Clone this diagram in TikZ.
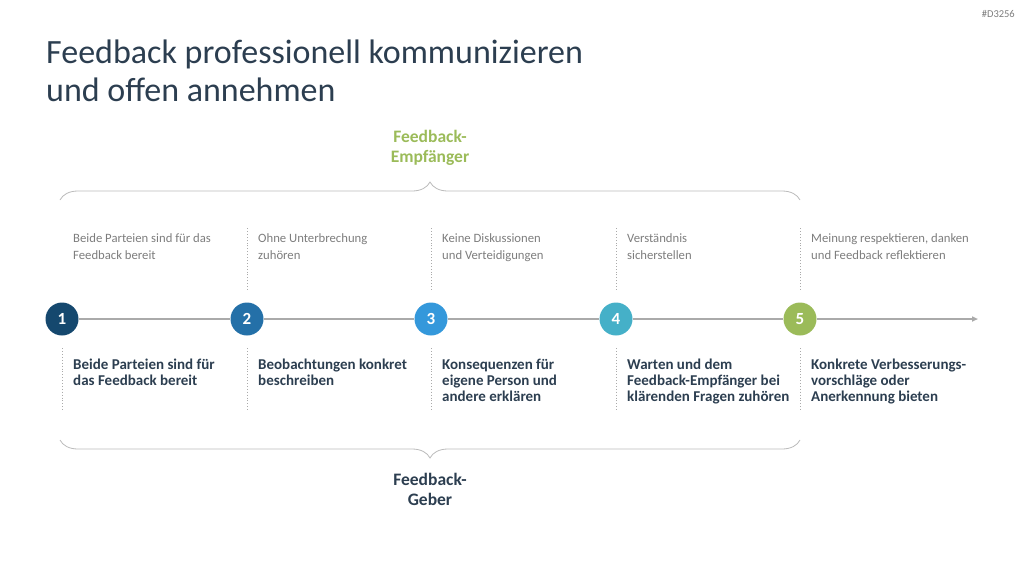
\documentclass[tikz,border=0pt]{standalone}
\usepackage{fontspec}
\setmainfont{Carlito}
\usetikzlibrary{arrows.meta,decorations.pathreplacing}

\definecolor{navy}{RGB}{44,62,80}
\definecolor{stepone}{RGB}{21,72,110}
\definecolor{steptwo}{RGB}{36,112,168}
\definecolor{stepthree}{RGB}{52,152,219}
\definecolor{stepfour}{RGB}{69,176,200}
\definecolor{stepfive}{RGB}{155,187,89}
\definecolor{softgray}{RGB}{125,125,125}
\definecolor{linegray}{RGB}{170,170,170}

\tikzset{
  dot/.style={circle, fill=#1, minimum size=33pt, inner sep=0pt,
    text=white, font=\fontsize{17}{17}\selectfont\bfseries},
  hint/.style={anchor=north west, inner sep=0pt, align=left, text=softgray,
    font=\fontsize{12.7}{17}\selectfont},
  action/.style={anchor=north west, inner sep=0pt, align=left, text=navy,
    font=\fontsize{15}{16}\selectfont\bfseries},
  dotline/.style={draw=linegray, line width=0.9pt, dotted},
  bracket/.style={draw=linegray!80, line width=0.8pt,
    decorate, decoration={brace, amplitude=18pt}},
}

\begin{document}
\begin{tikzpicture}[x=1pt, y=-1pt]
  \useasboundingbox (0,0) rectangle (1024,576);

  % title and tag
  \node[anchor=north west, inner sep=0pt, align=left, text=navy,
    font=\fontsize{34}{38}\selectfont] (title) at (46,40)
    {Feedback professionell kommunizieren\\und offen annehmen};
  \node[anchor=north east, inner sep=0pt, text=softgray,
    font=\fontsize{10.5}{10.5}\selectfont] (tag) at (1015,10) {\#D3256};

  % timeline
  \coordinate (tip) at (978,319);
  \node[dot=stepone] (c1) at (62,319) {1};
  \node[dot=steptwo] (c2) at (247,319) {2};
  \node[dot=stepthree] (c3) at (431,319) {3};
  \node[dot=stepfour] (c4) at (616,319) {4};
  \node[dot=stepfive] (c5) at (800,319) {5};
  \draw[draw=linegray, line width=1.6pt, -{Triangle[length=6pt,width=5pt]}]
    (c1) -- (c2) -- (c3) -- (c4) -- (c5) -- (tip);

  % dotted guides
  \foreach \n in {2,...,5}
    \draw[dotline] ([yshift=12.5pt]c\n.north) -- ++(0,-62);
  \foreach \n in {1,...,5}
    \draw[dotline] ([yshift=-12.5pt]c\n.south) -- ++(0,62);

  % receiver side
  \node[hint] (h1) at (73,233) {Beide Parteien sind für das\\Feedback bereit};
  \node[hint] (h2) at (258,233) {Ohne Unterbrechung\\zuhören};
  \node[hint] (h3) at (442,233) {Keine Diskussionen\\und Verteidigungen};
  \node[hint] (h4) at (627,233) {Verständnis\\sicherstellen};
  \node[hint] (h5) at (811,233) {Meinung respektieren, danken\\und Feedback reflektieren};

  % giver side
  \node[action] (a1) at (73,359) {Beide Parteien sind für\\das Feedback bereit};
  \node[action] (a2) at (258,359) {Beobachtungen konkret\\beschreiben};
  \node[action] (a3) at (442,359) {Konsequenzen für\\eigene Person und\\andere erklären};
  \node[action] (a4) at (627,359) {Warten und dem\\Feedback-Empfänger bei\\klärenden Fragen zuhören};
  \node[action] (a5) at (811,359) {Konkrete Verbesserungs-\\vorschläge oder\\Anerkennung bieten};

  % braces
  \coordinate (tl) at (60,200);
  \coordinate (tr) at (800,200);
  \coordinate (bl) at (60,440);
  \coordinate (br) at (800,440);
  \draw[bracket] (tl) -- (tr);
  \draw[bracket] (br) -- (bl);
  \node[align=center, inner sep=0pt, anchor=north, text=stepfive,
    font=\fontsize{17.5}{20}\selectfont\bfseries] (recv) at (430,130)
    {Feedback-\\Empfänger};
  \node[align=center, inner sep=0pt, anchor=north, text=navy,
    font=\fontsize{17.5}{20}\selectfont\bfseries] (giver) at (430,473)
    {Feedback-\\Geber};
\end{tikzpicture}
\end{document}
